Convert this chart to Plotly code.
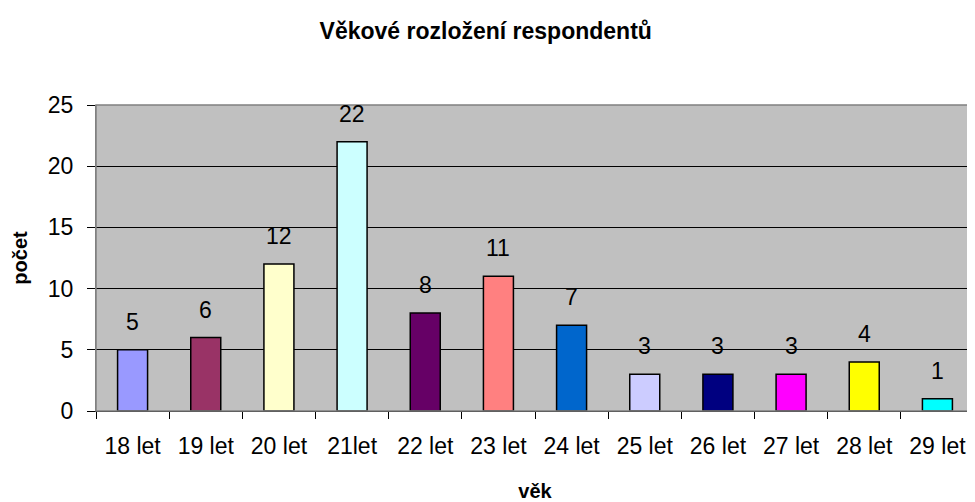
import plotly.graph_objects as go

categories = ["18 let", "19 let", "20 let", "21let", "22 let", "23 let", "24 let",
              "25 let", "26 let", "27 let", "28 let", "29 let"]
values = [5, 6, 12, 22, 8, 11, 7, 3, 3, 3, 4, 1]
colors = ["#9999FF", "#993366", "#FFFFCC", "#CCFFFF", "#660066", "#FF8080",
          "#0066CC", "#CCCCFF", "#000080", "#FF00FF", "#FFFF00", "#00FFFF"]
y_ticks = [0, 5, 10, 15, 20, 25]

FONT = "Liberation Sans, Arial, sans-serif"

fig = go.Figure()
fig.add_trace(go.Bar(
    x=categories, y=values,
    marker=dict(color=colors, line=dict(color="black", width=1.5)),
    width=0.41,
    hoverinfo="x+y",
))

for c, v in zip(categories, values):
    fig.add_annotation(x=c, y=v, text=str(v), showarrow=False, yshift=28,
                       font=dict(family=FONT, size=23, color="black"))

fig.add_shape(type="rect", xref="paper", yref="paper", x0=0, x1=1, y0=0, y1=1,
              line=dict(color="#808080", width=1.5), layer="above")

fig.update_layout(
    width=967, height=494,
    margin=dict(l=88, r=1, t=97, b=91),
    paper_bgcolor="white",
    plot_bgcolor="#C0C0C0",
    showlegend=False,
    title=dict(text="Věkové rozložení respondentů", x=0.494, xanchor="center",
               y=0.953, yanchor="middle",
               font=dict(family=FONT, size=23, color="black", weight="bold")),
    font=dict(family=FONT, color="black"),
    xaxis=dict(
        type="category", automargin=False,
        tickson="boundaries", ticks="outside", ticklen=7, tickcolor="black", tickwidth=1,
        showgrid=False, showline=True, linecolor="black", linewidth=1,
        tickfont=dict(size=23), ticklabelstandoff=14,
        title=dict(text="věk", font=dict(size=20, weight="bold"), standoff=30),
    ),
    yaxis=dict(
        range=[0, 25], tickvals=y_ticks, ticks="outside", ticklen=8, tickcolor="black",
        automargin=False,
        showgrid=True, gridcolor="black", gridwidth=1, zeroline=False,
        showline=True, linecolor="#808080",
        tickfont=dict(size=23), ticklabelstandoff=9,
        title=dict(text="počet", font=dict(size=20, weight="bold"), standoff=14),
    ),
)

fig.write_html("out.html")
